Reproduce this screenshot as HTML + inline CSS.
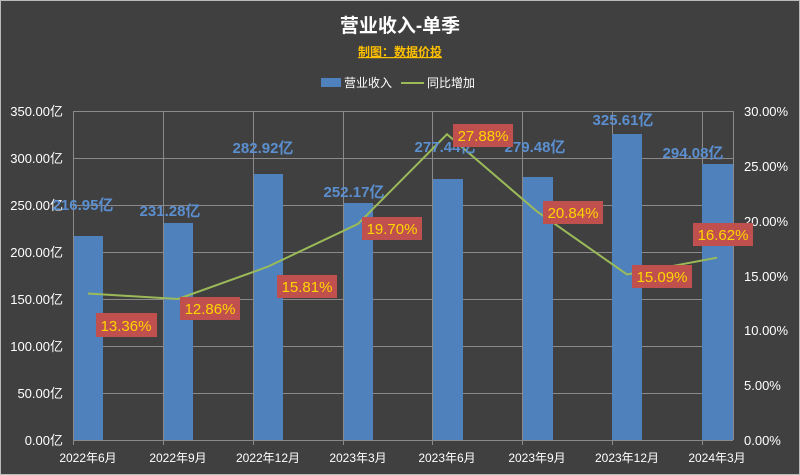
<!DOCTYPE html><html><head><meta charset="utf-8"><style>body{margin:0;background:#404040}svg{display:block}text{font-family:"Liberation Sans","Noto Sans CJK SC",sans-serif}</style></head><body>
<svg width="800" height="475" xmlns="http://www.w3.org/2000/svg">
<rect width="800" height="475" fill="#404040"/>
<rect x="0.5" y="0.5" width="799" height="474" fill="none" stroke="#bbb"/>
<text x="400" y="32" text-anchor="middle" font-size="19" font-weight="bold" fill="#fff">营业收入-单季</text>
<text x="400" y="56" text-anchor="middle" font-size="12" font-weight="bold" fill="#ffc000" text-decoration="underline">制图：数据价投</text>
<rect x="321" y="78" width="20" height="9" fill="#4f81bd"/><text x="344" y="87" font-size="12" fill="#fff">营业收入</text>
<line x1="401" y1="83" x2="424" y2="83" stroke="#9bbb59" stroke-width="2"/><text x="427" y="87" font-size="12" fill="#fff">同比增加</text>
<g stroke="#8a8a8a" stroke-width="1">
<line x1="73" y1="111.5" x2="733" y2="111.5"/><line x1="73" y1="158.5" x2="733" y2="158.5"/><line x1="73" y1="205.5" x2="733" y2="205.5"/><line x1="73" y1="252.5" x2="733" y2="252.5"/><line x1="73" y1="299.5" x2="733" y2="299.5"/><line x1="73" y1="346.5" x2="733" y2="346.5"/><line x1="73" y1="393.5" x2="733" y2="393.5"/><line x1="73" y1="440.5" x2="733" y2="440.5"/>
<line x1="73.5" y1="111" x2="73.5" y2="445"/><line x1="163.5" y1="111" x2="163.5" y2="445"/><line x1="253.5" y1="111" x2="253.5" y2="445"/><line x1="343.5" y1="111" x2="343.5" y2="445"/><line x1="432.5" y1="111" x2="432.5" y2="445"/><line x1="522.5" y1="111" x2="522.5" y2="445"/><line x1="612.5" y1="111" x2="612.5" y2="445"/><line x1="702.5" y1="111" x2="702.5" y2="445"/><line x1="733.5" y1="111" x2="733.5" y2="440"/>
</g>
<g fill="#4f81bd">
<rect x="74" y="236" width="29" height="204"/><rect x="164" y="223" width="29" height="217"/><rect x="254" y="174" width="29" height="266"/><rect x="344" y="203" width="29" height="237"/><rect x="433" y="179" width="30" height="261"/><rect x="523" y="177" width="30" height="263"/><rect x="612" y="134" width="30" height="306"/><rect x="702" y="164" width="31" height="276"/>
</g>
<g font-size="13" fill="#fff" text-anchor="end">
<text x="63" y="116">350.00亿</text><text x="63" y="163">300.00亿</text><text x="63" y="210">250.00亿</text><text x="63" y="257">200.00亿</text><text x="63" y="304">150.00亿</text><text x="63" y="351">100.00亿</text><text x="63" y="398">50.00亿</text><text x="63" y="445">0.00亿</text>
</g>
<g font-size="13" fill="#fff">
<text x="744" y="116">30.00%</text><text x="744" y="171">25.00%</text><text x="744" y="226">20.00%</text><text x="744" y="281">15.00%</text><text x="744" y="335">10.00%</text><text x="744" y="390">5.00%</text><text x="744" y="445">0.00%</text>
</g>
<g font-size="12" fill="#fff" text-anchor="middle">
<text x="88" y="462">2022年6月</text><text x="178" y="462">2022年9月</text><text x="268" y="462">2022年12月</text><text x="358" y="462">2023年3月</text><text x="447" y="462">2023年6月</text><text x="537" y="462">2023年9月</text><text x="627" y="462">2023年12月</text><text x="717" y="462">2024年3月</text>
</g>
<polyline fill="none" stroke="#9bbb59" stroke-width="2" points="88,293.5 178,299 268,266.6 358,223.9 447,134.3 537,211.5 627,274.5 717,257.7"/>
<g font-size="15" font-weight="bold" fill="#5b8fd0" text-anchor="middle">
<text x="83" y="210">216.95亿</text><text x="170" y="216">231.28亿</text><text x="263" y="153">282.92亿</text><text x="354" y="197">252.17亿</text><text x="445" y="152">277.44亿</text><text x="535" y="152">279.48亿</text><text x="623" y="125">325.61亿</text><text x="693" y="158">294.08亿</text>
</g>
<g fill="#c0504d">
<rect x="96" y="313" width="61" height="24"/><rect x="180" y="297" width="60" height="23"/><rect x="277" y="275" width="60" height="23"/><rect x="362" y="217" width="60" height="23"/><rect x="453" y="124" width="60" height="23"/><rect x="543" y="201" width="60" height="23"/><rect x="632" y="265" width="60" height="23"/><rect x="693" y="223" width="60" height="23"/>
</g>
<g font-size="15" fill="#ffd700" text-anchor="middle">
<text x="126" y="331">13.36%</text><text x="210" y="314">12.86%</text><text x="307" y="292">15.81%</text><text x="392" y="234">19.70%</text><text x="483" y="141">27.88%</text><text x="573" y="218">20.84%</text><text x="662" y="282">15.09%</text><text x="723" y="240">16.62%</text>
</g>
</svg></body></html>
